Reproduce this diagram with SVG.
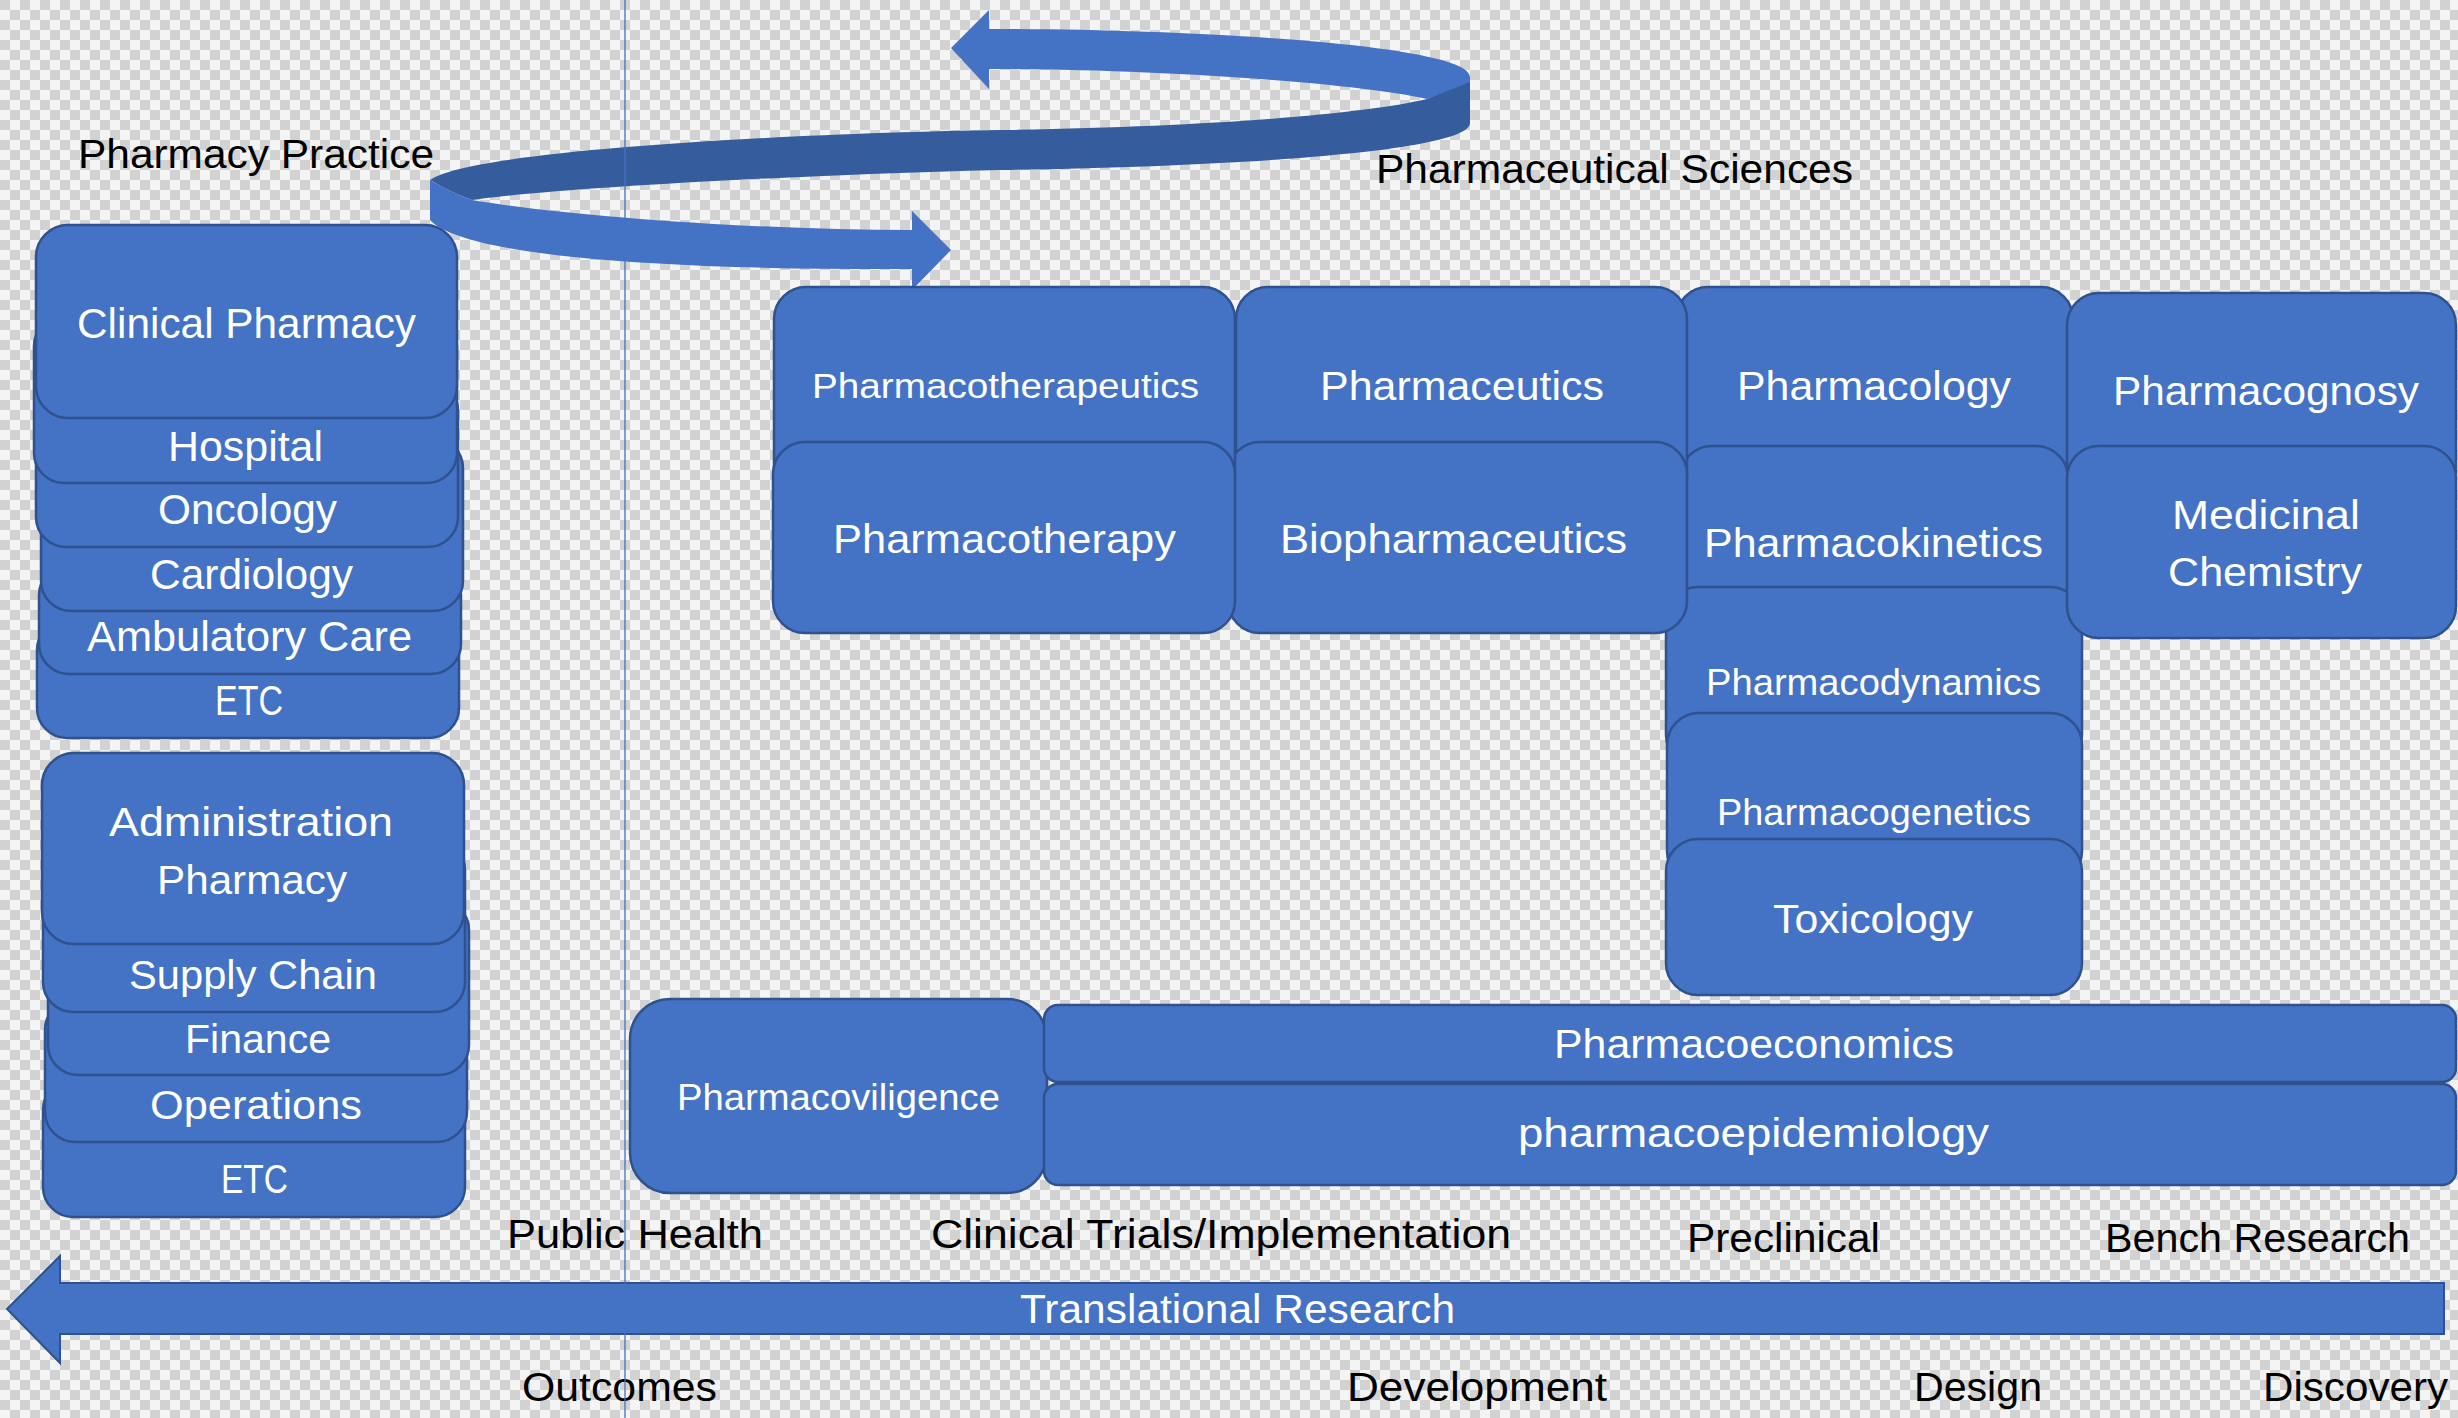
<svg xmlns="http://www.w3.org/2000/svg" width="2458" height="1418" viewBox="0 0 2458 1418">
<defs>
<pattern id="chk" width="20" height="20" patternUnits="userSpaceOnUse">
<rect width="20" height="20" fill="#f4f4f4"/>
<rect width="10" height="10" fill="#d2d2d2"/>
<rect x="10" y="10" width="10" height="10" fill="#d2d2d2"/>
</pattern>
<style>
.box{fill:#4472C4;stroke:#2F528F;stroke-width:2.5}
.rib{fill:#4472C4}
.ribd{fill:#355D9E}
.w{fill:#ffffff;font-family:"Liberation Sans",Arial,sans-serif;font-size:41px}
.k{fill:#000000;font-family:"Liberation Sans",Arial,sans-serif;font-size:40px}
.s{font-size:42px}
</style>
</defs>
<rect x="0" y="0" width="2458" height="1418" fill="url(#chk)"/>

<g id="ribbon-arrow">
<path class="ribd" d="M 1427,99 C 1360,115 1200,127 1000,130 C 800,133 470,150 430,180 Q 450,192 472,200 C 540,190 760,176 1000,170 C 1260,166 1470,150 1470,123 L 1470,80 Z"/>
<path class="rib" d="M 989,29 C 1200,29 1470,45 1470,77 L 1470,82 L 1427,99 C 1350,82 1150,69 989,69 L 989,89 L 951,48 L 989,10 Z"/>
<path class="rib" d="M 430,180 Q 450,192 472,200 C 560,215 750,230 912,230 L 912,211 L 951,250 L 912,290 L 912,269 C 720,270 470,262 430,220 Z"/>
</g>

<g id="label-pharmacy-practice"><text class="k" x="78" y="168" textLength="356" lengthAdjust="spacingAndGlyphs">Pharmacy Practice</text></g>
<g id="label-pharmaceutical-sciences"><text class="k" x="1376" y="183" textLength="477" lengthAdjust="spacingAndGlyphs">Pharmaceutical Sciences</text></g>

<g id="clinical-stack">
<g id="etc-1"><rect class="box" x="37" y="620" width="422" height="118" rx="30"/><text class="w s" x="215" y="715" textLength="68" lengthAdjust="spacingAndGlyphs">ETC</text></g>
<g id="ambulatory-care"><rect class="box" x="39" y="565" width="422" height="109" rx="30"/><text class="w s" x="87" y="651" textLength="325" lengthAdjust="spacingAndGlyphs">Ambulatory Care</text></g>
<g id="cardiology"><rect class="box" x="41" y="438" width="422" height="173" rx="30"/><text class="w s" x="150" y="589" textLength="203" lengthAdjust="spacingAndGlyphs">Cardiology</text></g>
<g id="oncology"><rect class="box" x="36" y="380" width="422" height="167" rx="30"/><text class="w s" x="158" y="524" textLength="179" lengthAdjust="spacingAndGlyphs">Oncology</text></g>
<g id="hospital"><rect class="box" x="34" y="316" width="423" height="167" rx="30"/><text class="w s" x="168" y="461" textLength="155" lengthAdjust="spacingAndGlyphs">Hospital</text></g>
<g id="clinical-pharmacy"><rect class="box" x="36" y="225" width="421" height="193" rx="32"/><text class="w" x="77" y="338" style="font-size:43px" textLength="339" lengthAdjust="spacingAndGlyphs">Clinical Pharmacy</text></g>
</g>

<g id="admin-stack">
<g id="etc-2"><rect class="box" x="43" y="1080" width="422" height="137" rx="30"/><text class="w" x="221" y="1193" textLength="67" lengthAdjust="spacingAndGlyphs">ETC</text></g>
<g id="operations"><rect class="box" x="45" y="1000" width="422" height="142" rx="30"/><text class="w" x="150" y="1119" textLength="212" lengthAdjust="spacingAndGlyphs">Operations</text></g>
<g id="finance"><rect class="box" x="48" y="900" width="421" height="175" rx="30"/><text class="w" x="185" y="1053" textLength="146" lengthAdjust="spacingAndGlyphs">Finance</text></g>
<g id="supply-chain"><rect class="box" x="43" y="840" width="422" height="172" rx="30"/><text class="w" x="129" y="989" textLength="248" lengthAdjust="spacingAndGlyphs">Supply Chain</text></g>
<g id="administration-pharmacy"><rect class="box" x="42" y="753" width="422" height="191" rx="32"/><text class="w" x="109" y="836" textLength="284" lengthAdjust="spacingAndGlyphs">Administration</text><text class="w" x="157" y="894" textLength="190" lengthAdjust="spacingAndGlyphs">Pharmacy</text></g>
</g>

<g id="pharmacology-column">
<g id="pharmacology"><rect class="box" x="1676" y="287" width="397" height="220" rx="32"/><text class="w" x="1737" y="400" textLength="274" lengthAdjust="spacingAndGlyphs">Pharmacology</text></g>
<g id="pharmacokinetics"><rect class="box" x="1680" y="446" width="388" height="200" rx="32"/><text class="w" x="1704" y="557" textLength="339" lengthAdjust="spacingAndGlyphs">Pharmacokinetics</text></g>
<g id="pharmacodynamics"><rect class="box" x="1666" y="587" width="416" height="180" rx="32"/><text class="w" x="1706" y="695" style="font-size:36px" textLength="335" lengthAdjust="spacingAndGlyphs">Pharmacodynamics</text></g>
<g id="pharmacogenetics"><rect class="box" x="1667" y="713" width="415" height="170" rx="32"/><text class="w" x="1717" y="825" style="font-size:37px" textLength="314" lengthAdjust="spacingAndGlyphs">Pharmacogenetics</text></g>
<g id="toxicology"><rect class="box" x="1666" y="839" width="416" height="156" rx="32"/><text class="w" x="1773" y="933" textLength="200" lengthAdjust="spacingAndGlyphs">Toxicology</text></g>
</g>

<g id="pharmaceutics-column">
<g id="pharmaceutics"><rect class="box" x="1236" y="287" width="451" height="220" rx="32"/><text class="w" x="1320" y="400" textLength="284" lengthAdjust="spacingAndGlyphs">Pharmaceutics</text></g>
<g id="biopharmaceutics"><rect class="box" x="1228" y="442" width="459" height="191" rx="32"/><text class="w" x="1280" y="553" textLength="347" lengthAdjust="spacingAndGlyphs">Biopharmaceutics</text></g>
</g>

<g id="pharmacotherapy-column">
<g id="pharmacotherapeutics"><rect class="box" x="774" y="287" width="461" height="220" rx="32"/><text class="w" x="812" y="398" style="font-size:35px" textLength="387" lengthAdjust="spacingAndGlyphs">Pharmacotherapeutics</text></g>
<g id="pharmacotherapy"><rect class="box" x="773" y="442" width="462" height="191" rx="32"/><text class="w" x="833" y="553" textLength="343" lengthAdjust="spacingAndGlyphs">Pharmacotherapy</text></g>
</g>

<g id="medchem-column">
<g id="pharmacognosy"><rect class="box" x="2067" y="293" width="389" height="210" rx="32"/><text class="w" x="2113" y="405" textLength="306" lengthAdjust="spacingAndGlyphs">Pharmacognosy</text></g>
<g id="medicinal-chemistry"><rect class="box" x="2067" y="446" width="389" height="192" rx="32"/><text class="w" x="2172" y="529" textLength="188" lengthAdjust="spacingAndGlyphs">Medicinal</text><text class="w" x="2168" y="586" textLength="194" lengthAdjust="spacingAndGlyphs">Chemistry</text></g>
</g>

<g id="bottom-row">
<g id="pharmacoviligence"><rect class="box" x="630" y="999" width="417" height="194" rx="40"/><text class="w" x="677" y="1110" style="font-size:37px" textLength="323" lengthAdjust="spacingAndGlyphs">Pharmacoviligence</text></g>
<g id="pharmacoeconomics"><rect class="box" x="1044" y="1005" width="1412" height="77" rx="14"/><text class="w" x="1554" y="1058" style="font-size:40px" textLength="400" lengthAdjust="spacingAndGlyphs">Pharmacoeconomics</text></g>
<g id="pharmacoepidemiology"><rect class="box" x="1044" y="1084" width="1412" height="101" rx="14"/><text class="w" x="1518" y="1147" style="font-size:40px" textLength="471" lengthAdjust="spacingAndGlyphs">pharmacoepidemiology</text></g>
</g>

<g id="stage-labels-top">
<text class="k" x="507" y="1248" textLength="256" lengthAdjust="spacingAndGlyphs">Public Health</text>
<text class="k" x="931" y="1248" textLength="580" lengthAdjust="spacingAndGlyphs">Clinical Trials/Implementation</text>
<text class="k" x="1687" y="1252" textLength="193" lengthAdjust="spacingAndGlyphs">Preclinical</text>
<text class="k" x="2105" y="1252" textLength="305" lengthAdjust="spacingAndGlyphs">Bench Research</text>
</g>

<g id="translational-research">
<path d="M 7,1309 L 60,1256 L 60,1283 L 2444,1283 L 2444,1334 L 60,1334 L 60,1363 Z" fill="#4472C4" stroke="#2F528F" stroke-width="2"/>
<text class="w" x="1020" y="1323" style="font-size:40px" textLength="435" lengthAdjust="spacingAndGlyphs">Translational Research</text>
</g>

<g id="stage-labels-bottom">
<text class="k" x="522" y="1401" textLength="195" lengthAdjust="spacingAndGlyphs">Outcomes</text>
<text class="k" x="1347" y="1401" textLength="260" lengthAdjust="spacingAndGlyphs">Development</text>
<text class="k" x="1914" y="1401" textLength="128" lengthAdjust="spacingAndGlyphs">Design</text>
<text class="k" x="2263" y="1401" textLength="185" lengthAdjust="spacingAndGlyphs">Discovery</text>
</g>

<g id="connectors">
<line x1="625" y1="0" x2="625" y2="1418" stroke="#4472C4" stroke-width="1.3"/>
</g>
</svg>
